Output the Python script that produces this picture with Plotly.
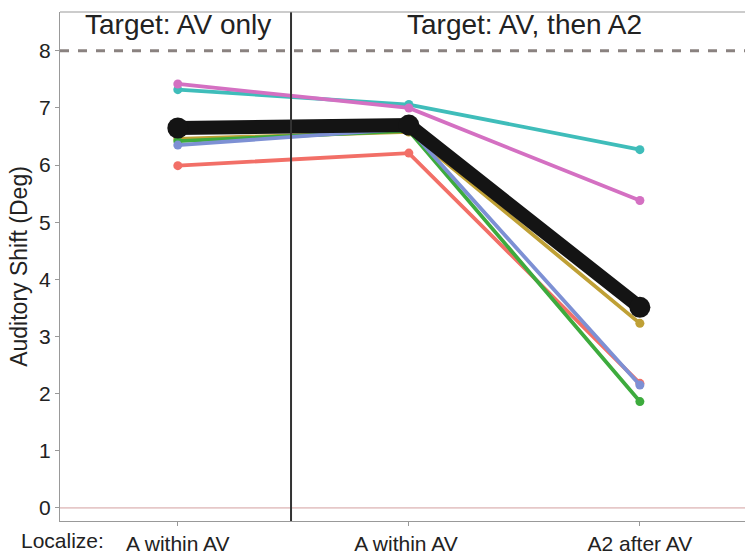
import plotly.graph_objects as go

# Conditions along the x axis
conditions = ["A within AV", "A within AV ", "A2 after AV"]
x_pos = [0, 1, 2]

# Per-subject auditory shifts (deg)
shift_red = [5.99, 6.21, 2.18]
shift_gold = [6.46, 6.58, 3.23]
shift_green = [6.42, 6.60, 1.86]
shift_teal = [7.32, 7.06, 6.27]
shift_blue = [6.35, 6.64, 2.15]
shift_pink = [7.42, 7.00, 5.38]

# Group mean
shift_mean = [6.65, 6.70, 3.51]

series = [
    ("S1", shift_red, "#F26F67"),
    ("S2", shift_teal, "#3FBDBA"),
    ("S3", shift_pink, "#D470C2"),
    ("S4", shift_gold, "#BFA035"),
    ("S5", shift_green, "#3DAB3D"),
    ("S6", shift_blue, "#7D90D4"),
]

fig = go.Figure()

for name, vals, col in series:
    fig.add_trace(go.Scatter(
        x=x_pos, y=vals, mode="lines+markers", name=name,
        line=dict(color=col, width=3.8),
        marker=dict(color=col, size=9),
        showlegend=False,
    ))

fig.add_trace(go.Scatter(
    x=x_pos, y=shift_mean, mode="lines+markers", name="Mean",
    line=dict(color="#141414", width=14),
    marker=dict(color="#141414", size=21),
    showlegend=False,
))

# Reference lines
fig.add_shape(type="line", xref="paper", yref="y", x0=0, x1=1, y0=8, y1=8,
              line=dict(color="#8a8280", width=3, dash="dash"), layer="below")
fig.add_shape(type="line", xref="paper", yref="y", x0=0, x1=1, y0=0, y1=0,
              line=dict(color="#e6c8c8", width=1.8), layer="below")
# Divider between target conditions
fig.add_shape(type="line", xref="x", yref="paper", x0=0.49, x1=0.49, y0=0, y1=1,
              line=dict(color="#333333", width=2))
# Panel frame (top)
fig.add_shape(type="line", xref="paper", yref="paper", x0=0, x1=1, y0=1, y1=1,
              line=dict(color="#999999", width=1.2))

font_family = "Liberation Sans, Arial, sans-serif"

fig.add_annotation(x=0, y=8.47, xref="x", yref="y", text="Target: AV only",
                   showarrow=False, font=dict(size=28, color="#222222", family=font_family))
fig.add_annotation(x=1.5, y=8.47, xref="x", yref="y", text="Target: AV, then A2",
                   showarrow=False, font=dict(size=28, color="#222222", family=font_family))
# "Localize:" label sits left of the first category label, in paper units
fig.add_annotation(x=(106 - 60) / 685, y=-(543 - 523) / 511, xref="paper", yref="paper",
                   text="Localize:", showarrow=False, xanchor="right", yanchor="middle",
                   font=dict(size=21, color="#222222", family=font_family))

fig.update_layout(
    width=745, height=555,
    margin=dict(l=60, r=0, t=12, b=32),
    paper_bgcolor="white", plot_bgcolor="white",
    font=dict(family=font_family, color="#222222"),
    xaxis=dict(
        range=[-0.51, 2.455], tickvals=x_pos, ticktext=conditions,
        showgrid=False, zeroline=False, showline=True,
        linecolor="#999999", linewidth=1.2,
        ticks="outside", ticklen=4, tickcolor="#999999",
        tickfont=dict(size=21, color="#222222"),
    ),
    yaxis=dict(
        range=[-0.23, 8.68], tickvals=list(range(0, 9)),
        showgrid=False, zeroline=False, showline=True,
        linecolor="#999999", linewidth=1.2,
        ticks="outside", ticklen=4, tickcolor="#999999",
        tickfont=dict(size=21, color="#222222"),
        title=dict(text="Auditory Shift (Deg)", font=dict(size=23, color="#222222"), standoff=4),
    ),
)

fig.write_html("out.html")
